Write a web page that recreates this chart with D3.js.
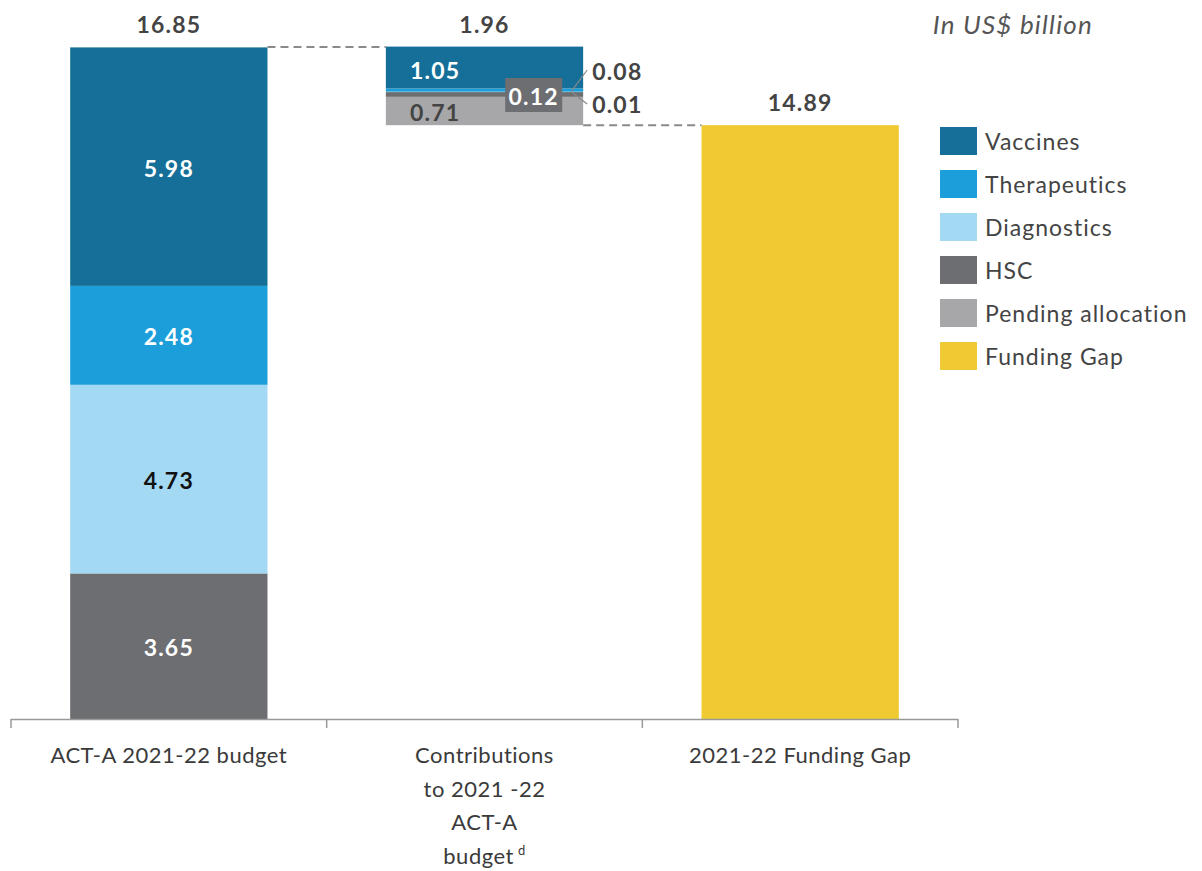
<!DOCTYPE html>
<html><head><meta charset="utf-8">
<script src="https://cdn.jsdelivr.net/npm/d3@7"></script>
<style>
html,body{margin:0;padding:0;background:#fff;}
svg{display:block;font-family:Lato,"Noto Sans",sans-serif;}
.num{font-weight:700;font-size:23px;letter-spacing:1.2px;}
</style></head>
<body>
<svg id="chart" width="1202" height="871"></svg>
<script>
const categories = ["ACT-A 2021-22 budget", "Contributions to 2021 -22 ACT-A budget", "2021-22 Funding Gap"];
const categoryLines = [["ACT-A 2021-22 budget"], ["Contributions", "to 2021 -22", "ACT-A", "budget"], ["2021-22 Funding Gap"]];
const series = ["Vaccines", "Therapeutics", "Diagnostics", "HSC", "Pending allocation", "Funding Gap"];
const colors = ["#156f99", "#1b9ed9", "#a3d9f3", "#6d6e71", "#a7a7a9", "#f0ca32"];
const budgetValues = [5.98, 2.48, 4.73, 3.65, 0, 0];
const contributionValues = [1.05, 0.08, 0.01, 0.12, 0.71, 0];
const gapValues = [0, 0, 0, 0, 0, 14.89];
const totals = [16.85, 1.96, 14.89];

const svg = d3.select("#chart");
const baseY = 719, topY = 47;
const x = d3.scaleBand().domain(categories).range([11, 958]).padding(0);
const y = d3.scaleLinear().domain([0, totals[0]]).range([baseY, topY]);
const barW = x.bandwidth() * 0.625;
const barX = c => x(c) + (x.bandwidth() - barW) / 2;

const valuesByCat = [budgetValues, contributionValues, gapValues];
const bases = [0, totals[0] - totals[1], 0];
// stacking order from bottom: Funding Gap, Pending, HSC, Diagnostics, Therapeutics, Vaccines
const stackOrder = [5, 4, 3, 2, 1, 0];

const segs = [];
categories.forEach((c, ci) => {
  let acc = bases[ci];
  stackOrder.forEach(si => {
    const v = valuesByCat[ci][si];
    if (v > 0) {
      segs.push({cat: c, ci, si, v, y0: acc, y1: acc + v});
      acc += v;
    }
  });
});

svg.append("g").selectAll("rect").data(segs).join("rect")
  .attr("x", d => barX(d.cat))
  .attr("width", barW)
  .attr("y", d => y(d.y1))
  .attr("height", d => y(d.y0) - y(d.y1))
  .attr("fill", d => colors[d.si]);

// dashed connectors
const conn = svg.append("g").attr("stroke", "#8a8a8a").attr("stroke-width", 2).attr("stroke-dasharray", "8,5").attr("fill", "none");
conn.append("line").attr("x1", barX(categories[0]) + barW).attr("x2", barX(categories[1]))
  .attr("y1", y(totals[0])).attr("y2", y(totals[0]));
conn.append("line").attr("x1", barX(categories[1]) + barW).attr("x2", barX(categories[2]))
  .attr("y1", y(totals[2])).attr("y2", y(totals[2]));

// axis
const axis = svg.append("g").attr("stroke", "#999").attr("stroke-width", 1.5);
axis.append("line").attr("x1", 11).attr("x2", 958).attr("y1", baseY + 0.5).attr("y2", baseY + 0.5);
[0, 1, 2].forEach(i => {
  const xx = x(categories[i]);
  axis.append("line").attr("x1", xx).attr("x2", xx).attr("y1", baseY).attr("y2", baseY + 9);
});
axis.append("line").attr("x1", 958).attr("x2", 958).attr("y1", baseY).attr("y2", baseY + 9);

// category labels
categories.forEach((c, i) => {
  const cx = x(c) + x.bandwidth() / 2;
  const t = svg.append("text").attr("text-anchor", "middle").attr("fill", "#3a3a3a")
    .attr("font-size", 22).attr("letter-spacing", "0.5px").attr("x", cx);
  categoryLines[i].forEach((ln, j) => {
    t.append("tspan").attr("x", cx).attr("y", 763 + j * 33.5).text(ln);
    if (i === 1 && j === 3) {
      t.append("tspan").attr("font-size", 13).attr("dy", -9).attr("dx", 4).text("d");
    }
  });
});

// total labels
const totalTops = [totals[0], totals[0], totals[2]];
categories.forEach((c, i) => {
  svg.append("text").attr("class", "num").attr("text-anchor", "middle")
    .attr("fill", "#444").attr("x", x(c) + x.bandwidth() / 2).attr("y", y(totalTops[i]) - 14)
    .text(totals[i].toFixed(2));
});

// segment labels in first bar
const textColor = {0: "#fff", 1: "#fff", 2: "#111", 3: "#fff"};
segs.filter(d => d.ci === 0).forEach(d => {
  svg.append("text").attr("class", "num").attr("text-anchor", "middle").attr("dominant-baseline", "central")
    .attr("fill", textColor[d.si])
    .attr("x", barX(d.cat) + barW / 2).attr("y", (y(d.y0) + y(d.y1)) / 2 + 1)
    .text(d.v.toFixed(2));
});

// middle bar labels
const mid = categories[1];
const mx = barX(mid);
const segOf = si => segs.find(d => d.ci === 1 && d.si === si);
const vac = segOf(0), pend = segOf(4), hsc = segOf(3), ther = segOf(1), diag = segOf(2);
svg.append("text").attr("class", "num").attr("text-anchor", "middle").attr("dominant-baseline", "central")
  .attr("fill", "#fff")
  .attr("x", mx + barW * 0.25).attr("y", y(vac.y1) + 23).text(vac.v.toFixed(2));
svg.append("text").attr("class", "num").attr("text-anchor", "middle").attr("dominant-baseline", "central")
  .attr("fill", "#444")
  .attr("x", mx + barW * 0.25).attr("y", (y(pend.y0) + y(pend.y1)) / 2 + 1).text(pend.v.toFixed(2));
// boxed HSC label
const bx = mx + barW * 0.605, bw = 57, bh = 34, by = 78;
svg.append("rect").attr("x", bx).attr("y", by).attr("width", bw).attr("height", bh).attr("fill", colors[3]);
svg.append("text").attr("class", "num").attr("text-anchor", "middle").attr("dominant-baseline", "central")
  .attr("fill", "#fff")
  .attr("x", bx + bw / 2).attr("y", by + bh / 2 + 1).text(hsc.v.toFixed(2));
// leader lines
const lx0 = mx + barW - 12, ly0 = y(ther.y0);
const leaders = svg.append("g").attr("stroke", "#888").attr("stroke-width", 1.2).attr("fill", "none");
leaders.append("line").attr("x1", lx0).attr("y1", ly0).attr("x2", mx + barW + 4).attr("y2", 70);
leaders.append("line").attr("x1", lx0).attr("y1", ly0).attr("x2", mx + barW + 4).attr("y2", 104);
svg.append("text").attr("class", "num").attr("dominant-baseline", "central")
  .attr("fill", "#444").attr("x", mx + barW + 9).attr("y", 71).text(ther.v.toFixed(2));
svg.append("text").attr("class", "num").attr("dominant-baseline", "central")
  .attr("fill", "#444").attr("x", mx + barW + 9).attr("y", 104).text(diag.v.toFixed(2));

// unit
svg.append("text").attr("text-anchor", "end").attr("font-style", "italic").attr("font-size", 26)
  .attr("letter-spacing", "1.2px").attr("fill", "#555").attr("x", 1093).attr("y", 34).text("In US$ billion");

// legend
const lg = svg.append("g").attr("transform", "translate(940,127)");
series.forEach((s, i) => {
  const g = lg.append("g").attr("transform", `translate(0,${i * 43})`);
  g.append("rect").attr("width", 37).attr("height", 28).attr("fill", colors[i]);
  g.append("text").attr("x", 45).attr("y", 14).attr("dominant-baseline", "central")
    .attr("font-size", 23).attr("letter-spacing", "1px").attr("fill", "#444").text(s);
});
</script>
</body></html>
